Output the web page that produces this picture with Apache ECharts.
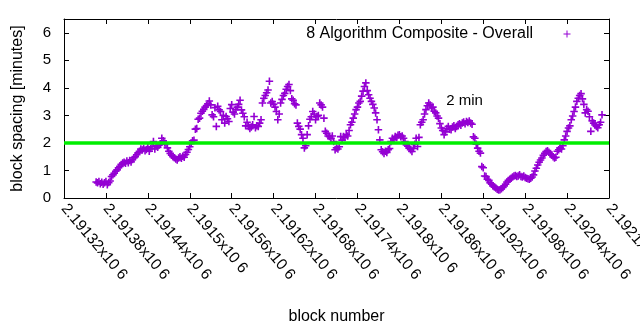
<!DOCTYPE html>
<html>
<head>
<meta charset="utf-8">
<script src="https://cdn.jsdelivr.net/npm/echarts@6/dist/echarts.min.js"></script>
<style>
  html, body { margin: 0; padding: 0; background: #fff; }
  #chart { width: 640px; height: 330px; }
</style>
</head>
<body>
<div id="chart"></div>
<script>
// ---- data ----
const seriesName = '8 Algorithm Composite - Overall';
const xAxisTitle = 'block number';
const yAxisTitle = 'block spacing [minutes]';
const targetLabel = '2 min';
const targetMinutes = 2;
const blockMin = 2191320;
const blockMax = 2192100;
const blockTickStep = 60;
const yTicks = [0, 1, 2, 3, 4, 5, 6];
const blockStart = 2191366;   // first plotted block
const blockStep = 2;          // blocks between plotted samples
const spacingMinutes = [
  0.58,0.55,0.60,0.52,0.57,0.50,0.55,0.60,0.48,0.56,
  0.62,0.78,0.84,0.90,0.97,1.02,1.10,1.15,1.22,1.27,
  1.30,1.26,1.34,1.28,1.36,1.31,1.40,1.46,1.50,1.57,
  1.64,1.70,1.78,1.74,1.80,1.72,1.76,1.84,1.70,1.80,
  1.86,2.05,1.78,1.90,1.84,1.92,1.95,2.17,2.08,2.00,
  1.97,1.82,1.70,1.62,1.55,1.50,1.46,1.42,1.38,1.45,
  1.50,1.44,1.52,1.48,1.58,1.66,1.76,1.86,1.98,2.08,
  2.10,2.50,2.52,2.86,2.90,3.08,3.15,3.22,3.30,3.36,
  3.42,3.52,3.38,3.02,2.95,3.28,2.60,3.33,3.20,3.14,
  2.84,3.00,2.72,2.96,2.88,2.78,3.25,3.39,3.12,3.05,
  3.22,3.30,3.40,3.55,3.20,3.08,2.95,2.62,2.75,2.60,
  2.52,2.58,2.66,2.96,2.55,2.62,2.60,2.72,2.84,3.45,
  3.62,3.72,3.82,3.92,4.24,3.45,3.50,3.40,3.30,3.14,
  2.84,3.05,3.45,3.58,3.72,3.80,3.95,4.05,4.12,3.90,
  3.60,3.55,3.42,3.38,2.72,2.60,2.50,2.30,2.17,1.82,
  1.90,2.30,2.62,2.86,2.95,3.14,3.05,2.84,2.96,3.00,
  3.45,3.38,3.30,2.90,2.42,2.35,2.25,2.23,2.17,2.25,
  2.05,1.75,1.82,1.78,1.86,2.23,2.10,2.23,2.20,2.30,
  2.25,2.45,2.66,2.75,2.90,3.05,3.21,3.30,3.45,3.51,
  3.70,3.88,4.05,4.18,3.90,3.75,3.62,3.51,3.40,3.27,
  3.09,2.84,2.48,2.11,1.75,1.68,1.62,1.70,1.65,1.75,
  1.80,2.05,2.17,2.12,2.23,2.20,2.28,2.30,2.22,2.25,
  2.17,2.05,1.93,1.88,1.81,1.75,1.69,1.80,1.95,2.17,
  1.87,2.20,2.66,2.75,2.84,3.05,3.21,3.35,3.45,3.38,
  3.27,3.30,3.15,3.09,2.98,2.90,2.70,2.54,2.45,2.30,
  2.40,2.52,2.60,2.50,2.48,2.58,2.62,2.52,2.60,2.66,
  2.70,2.64,2.72,2.76,2.70,2.78,2.74,2.80,2.72,2.68,
  2.22,2.17,1.95,1.81,1.70,1.63,1.14,1.10,0.80,0.78,
  0.68,0.64,0.55,0.50,0.44,0.40,0.36,0.32,0.29,0.30,
  0.34,0.38,0.44,0.50,0.58,0.64,0.68,0.72,0.76,0.80,
  0.82,0.78,0.80,0.84,0.78,0.76,0.80,0.74,0.72,0.70,
  0.68,0.72,0.76,0.84,0.98,1.08,1.20,1.30,1.38,1.45,
  1.55,1.62,1.69,1.72,1.66,1.60,1.56,1.50,1.45,1.48,
  1.70,1.75,1.82,1.78,1.90,2.11,2.25,2.42,2.54,2.62,
  2.84,2.98,3.14,3.30,3.51,3.62,3.72,3.79,3.60,3.40,
  3.09,3.21,3.15,2.95,2.42,2.80,2.72,2.65,2.60,2.55,
  2.66,2.75,3.02
];
const labelBlock = 2191867;
const labelMinutes = 3.53;

// ---- chart ----
const purple = '#9400d3';
const green = '#00ee00';
const font = '"Liberation Sans", Arial, sans-serif';
const crossPath = 'path://M0,3.5L7,3.5M3.5,0L3.5,7';

const points = spacingMinutes.map((v, i) => [blockStart + i * blockStep, v]);

const fmtBlock = v => (v / 1e6).toString() + 'x10 6';

const chart = echarts.init(document.getElementById('chart'), null, { renderer: 'canvas' });
const xCommon = {
  type: 'value', min: blockMin, max: blockMax, interval: blockTickStep,
  axisLine: { show: true, onZero: false, lineStyle: { color: '#000', width: 1 } },
  axisTick: { show: true, inside: true, length: 5, lineStyle: { color: '#000' } },
  splitLine: { show: false }
};
const yCommon = {
  type: 'value', min: yTicks[0], max: 6.5, interval: 1,
  axisLine: { show: true, onZero: false, lineStyle: { color: '#000', width: 1 } },
  axisTick: { show: true, inside: true, length: 5, lineStyle: { color: '#000' } },
  splitLine: { show: false }
};
chart.setOption({
  animation: false,
  backgroundColor: '#fff',
  grid: { left: 64, right: 31, top: 19, bottom: 132, containLabel: false, outerBoundsMode: 'none' },
  legend: {
    show: true,
    right: 64, top: 21,
    align: 'right',
    itemWidth: 58, itemHeight: 7,
    itemGap: 5,
    itemStyle: { borderWidth: 1 },
    textStyle: { fontFamily: font, fontSize: 16, color: '#000' },
    data: [{ name: seriesName, icon: crossPath }]
  },
  xAxis: [
    Object.assign({}, xCommon, {
      position: 'bottom',
      name: xAxisTitle, nameLocation: 'middle', nameGap: 111,
      nameTextStyle: { fontFamily: font, fontSize: 16, color: '#000' },
      axisLabel: { show: true, rotate: -50, margin: 8, formatter: fmtBlock,
        fontFamily: font, fontSize: 15.5, color: '#000', hideOverlap: false }
    }),
    Object.assign({}, xCommon, { position: 'top', axisLabel: { show: false } })
  ],
  yAxis: [
    Object.assign({}, yCommon, {
      position: 'left',
      name: yAxisTitle, nameLocation: 'middle', nameGap: 38,
      nameTextStyle: { fontFamily: font, fontSize: 16, color: '#000' },
      axisLabel: { show: true, margin: 13, showMaxLabel: false,
        formatter: v => (yTicks.includes(v) ? String(v) : ''),
        fontFamily: font, fontSize: 15, color: '#000' }
    }),
    Object.assign({}, yCommon, { position: 'right', axisLabel: { show: false } })
  ],
  series: [
    {
      name: seriesName,
      type: 'scatter',
      xAxisIndex: 0, yAxisIndex: 0,
      symbol: crossPath,
      symbolSize: 7.5,
      itemStyle: { color: purple, borderColor: purple, borderWidth: 1.6, opacity: 1 },
      data: points,
      z: 2
    },
    {
      name: 'target',
      type: 'line',
      xAxisIndex: 0, yAxisIndex: 0,
      symbol: 'none',
      lineStyle: { color: green, width: 3.5 },
      data: [[blockMin, targetMinutes], [blockMax, targetMinutes]],
      markPoint: {
        symbol: 'circle', symbolSize: 0,
        label: { show: true, position: 'right', distance: 0, formatter: targetLabel,
          fontFamily: font, fontSize: 15, color: '#000' },
        data: [{ coord: [labelBlock, labelMinutes] }]
      },
      z: 3
    }
  ]
});
</script>
</body>
</html>
